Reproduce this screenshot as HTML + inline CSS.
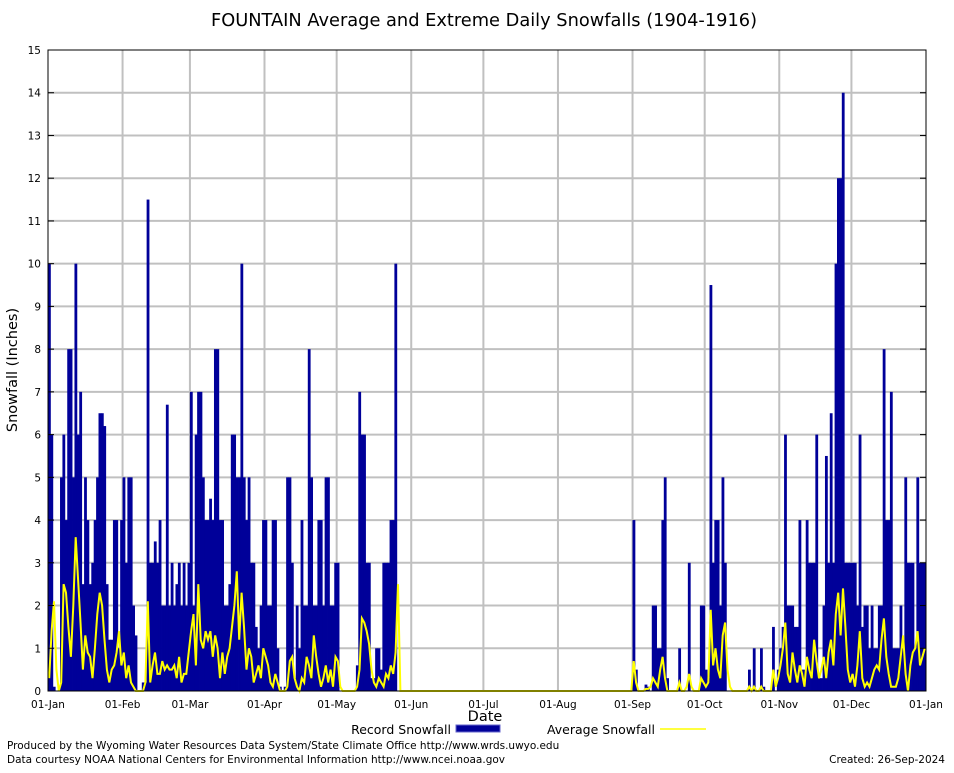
<!DOCTYPE html>
<html><head><meta charset="utf-8"><style>
body{margin:0;background:#fff;}
svg text{font-family:"DejaVu Sans","Liberation Sans",sans-serif;}
</style></head><body>
<svg id="chart" width="954" height="768" viewBox="0 0 954 768" xmlns="http://www.w3.org/2000/svg">
<rect x="0" y="0" width="954" height="768" fill="#fff"/>
<text x="484" y="26" font-size="17.8" text-anchor="middle">FOUNTAIN Average and Extreme Daily Snowfalls (1904-1916)</text>
<g id="grid"></g>
<g id="bars"></g>
<g id="line"></g>
<g id="axes"></g>
<text x="17" y="370" font-size="14.5" text-anchor="middle" transform="rotate(-90 17 370)">Snowfall (Inches)</text>
<text x="485" y="721" font-size="14.5" text-anchor="middle">Date</text>
<g>
<text x="451" y="734" font-size="12.5" text-anchor="end">Record Snowfall</text>
<rect x="456" y="725" width="44" height="7" fill="#000099" stroke="#6666cc"/>
<text x="655" y="734" font-size="12.5" text-anchor="end">Average Snowfall</text>
<line x1="660" y1="729" x2="706" y2="729" stroke="#ffff00" stroke-width="1.5"/>
</g>
<text x="7" y="749" font-size="10.5">Produced by the Wyoming Water Resources Data System/State Climate Office http://www.wrds.uwyo.edu</text>
<text x="7" y="763" font-size="10.5">Data courtesy NOAA National Centers for Environmental Information http://www.ncei.noaa.gov</text>
<text x="945" y="763" font-size="10.5" text-anchor="end">Created:  26-Sep-2024</text>
</svg>
<script>
const monthLabels=["01-Jan","01-Feb","01-Mar","01-Apr","01-May","01-Jun","01-Jul","01-Aug","01-Sep","01-Oct","01-Nov","01-Dec","01-Jan"];
const monthStartDays=[0,31,59,90,120,151,181,212,243,273,304,334,365];
const yTicks=[0,1,2,3,4,5,6,7,8,9,10,11,12,13,14,15];
const recJan=[10,6,0.1,0,0,5,6,4,8,8,5,10,6,7,2.5,5,4,2.5,3,4,5,6.5,6.5,6.2,2.5,1.2,1.2,4,4,1,4];
const recFeb=[5,3,5,5,2,1.3,0,0,0.2,0.2,11.5,3,3,3.5,3,4,2,2,6.7,2,3,2,2.5,3,2,3,2,3];
const recMar=[7,2,6,7,7,5,4,4,4.5,4,8,8,4,4,2,2,2.5,6,6,5,5,10,5,4,5,3,3,1.5,1,2,4];
const recApr=[4,2,2,4,4,1,0.1,0,0.1,5,5,3,0.3,2,1,4,2,2,8,5,2,2,4,4,2,5,5,2,2,3];
const recMay=[3,0,0,0,0,0,0,0,0.6,7,6,6,3,3,0.3,0.3,1,1,0.5,3,3,3,4,4,10,0,0,0,0,0,0];
const recJun=[0,0,0,0,0,0,0,0,0,0,0,0,0,0,0,0,0,0,0,0,0,0,0,0,0,0,0,0,0,0];
const recJul=[0,0,0,0,0,0,0,0,0,0,0,0,0,0,0,0,0,0,0,0,0,0,0,0,0,0,0,0,0,0,0];
const recAug=[0,0,0,0,0,0,0,0,0,0,0,0,0,0,0,0,0,0,0,0,0,0,0,0,0,0,0,0,0,0,0];
const recSep=[4,0.5,0,0,0,0.15,0.1,0,2,2,1,1,4,5,0.3,0,0,0,0,1,0,0,0,3,0,0,0,0,2,2];
const recOct=[0.5,0.3,9.5,3,4,4,2,5,3,0,0,0,0,0,0,0,0,0,0.5,0,1,0,0,1,0.1,0,0,0,1.5,0,0.5];
const recNov=[1,1.5,6,2,2,2,1.5,1.5,4,0.5,0.5,4,3,3,3,6,0.3,0.3,2,5.5,3,6.5,3,10,12,12,14,3,3,3];
const recDec=[3,3,2,6,1.5,2,2,1,2,1,1,2,2,8,4,4,7,1,1,1,2,1,5,3,3,3,1,5,3,3,3];
const avgJan=[0.3,1.4,2.1,0.5,0,0.2,2.5,2.3,1.5,0.8,2.0,3.6,2.6,1.6,0.5,1.3,0.9,0.8,0.3,1.0,1.8,2.3,2.0,1.2,0.5,0.2,0.5,0.6,0.9,1.4,0.6];
const avgFeb=[0.9,0.3,0.6,0.2,0.1,0,0,0,0,0.2,2.1,0.2,0.6,0.9,0.4,0.4,0.7,0.5,0.6,0.5,0.5,0.6,0.3,0.8,0.2,0.4,0.4,0.9];
const avgMar=[1.4,1.8,0.6,2.5,1.2,1.0,1.4,1.2,1.4,0.8,1.3,1.0,0.3,0.9,0.4,0.8,1.0,1.5,2.0,2.8,1.2,2.3,1.5,0.5,1.0,0.8,0.2,0.4,0.6,0.3,1.0];
const avgApr=[0.8,0.6,0.2,0.1,0.4,0.2,0,0,0,0.1,0.7,0.8,0.3,0.1,0,0.3,0.2,0.8,0.6,0.3,1.3,0.8,0.4,0.1,0.3,0.6,0.2,0.5,0.1,0.8];
const avgMay=[0.7,0.1,0,0,0,0,0,0,0.1,0.5,1.7,1.6,1.4,1.1,0.5,0.2,0.1,0.3,0.2,0.1,0.4,0.3,0.6,0.4,0.9,2.5,0,0,0,0,0];
const avgSep=[0.7,0.2,0,0,0,0.05,0.05,0.1,0.3,0.2,0.1,0.5,0.8,0.3,0,0,0,0,0,0.2,0,0,0.1,0.4,0.1,0,0,0,0.3,0.2];
const avgOct=[0.1,0.2,1.9,0.6,1.0,0.5,0.3,1.3,1.6,0.5,0.1,0,0,0,0,0,0,0,0.1,0,0.1,0,0,0.1,0,0,0,0,0.5,0.1,0.3];
const avgNov=[0.6,1.0,1.6,0.4,0.2,0.9,0.5,0.2,0.6,0.4,0.1,0.8,0.5,0.3,1.2,0.7,0.3,0.5,0.8,0.3,0.9,1.2,0.6,1.8,2.3,1.3,2.4,1.5,0.5,0.2];
const avgDec=[0.4,0.1,0.6,1.4,0.3,0.1,0.2,0.1,0.3,0.5,0.6,0.5,1.2,1.7,0.8,0.4,0.1,0.1,0.1,0.3,0.8,1.3,0.4,0,0.6,0.9,1.0,1.4,0.6,0.8,1.0];

const record=[].concat(recJan,recFeb,recMar,recApr,recMay,recJun,recJul,recAug,recSep,recOct,recNov,recDec);
const average=[].concat(avgJan,avgFeb,avgMar,avgApr,avgMay,recJun,recJul,recAug,avgSep,avgOct,avgNov,avgDec);

const NS="http://www.w3.org/2000/svg";
const L=48,R=926,T=50,B=691,DAYS=365,YMAX=15;
const xScale=d=>L+(R-L)*d/DAYS;
const yScale=v=>B-(B-T)*v/YMAX;
function mk(tag,attrs,parent){const e=document.createElementNS(NS,tag);for(const k in attrs)e.setAttribute(k,attrs[k]);parent.appendChild(e);return e;}
const grid=document.getElementById('grid'),bars=document.getElementById('bars'),line=document.getElementById('line'),axes=document.getElementById('axes');

yTicks.forEach(v=>{
  if(v>0&&v<YMAX){const g=mk('line',{x1:L,x2:R,y1:yScale(v),y2:yScale(v),stroke:'#c0c0c0','stroke-width':2},grid);
  
  }
  const t=mk('text',{x:L-7,y:yScale(v)+4,'font-size':10.5,'text-anchor':'end'},axes);
  t.textContent=v;
  
  
  const tk=mk('line',{x1:L,x2:L+6,y1:yScale(v),y2:yScale(v),stroke:'#000'},axes);
  
  
  const tk2=mk('line',{x1:R-6,x2:R,y1:yScale(v),y2:yScale(v),stroke:'#000'},axes);
  
  
});
monthStartDays.forEach((d,i)=>{
  const x=xScale(d);
  if(i>0&&i<monthStartDays.length-1){const g=mk('line',{x1:x,x2:x,y1:T,y2:B,stroke:'#c0c0c0','stroke-width':2},grid);
  
  }
  const t=mk('text',{x:x,y:708,'font-size':10.5,'text-anchor':'middle'},axes);
  t.textContent=monthLabels[i];
  
  
});
const bw=(R-L)/DAYS;
record.forEach((v,d)=>{
  if(v<=0)return;
  const r=mk('rect',{x:xScale(d),y:yScale(v),width:bw+0.4,height:B-yScale(v),fill:'#000099'},bars);
  
  
});
const cur=[];
average.forEach((v,d)=>{cur.push(xScale(d+0.5).toFixed(1)+','+yScale(v).toFixed(1));});
const pl=mk('polyline',{points:cur.join(' '),fill:'none',stroke:'#ffff00','stroke-width':2},line);


const fr=mk('rect',{x:L,y:T,width:R-L,height:B-T,fill:'none',stroke:'#000','stroke-width':1},axes);


</script>
</body></html>
